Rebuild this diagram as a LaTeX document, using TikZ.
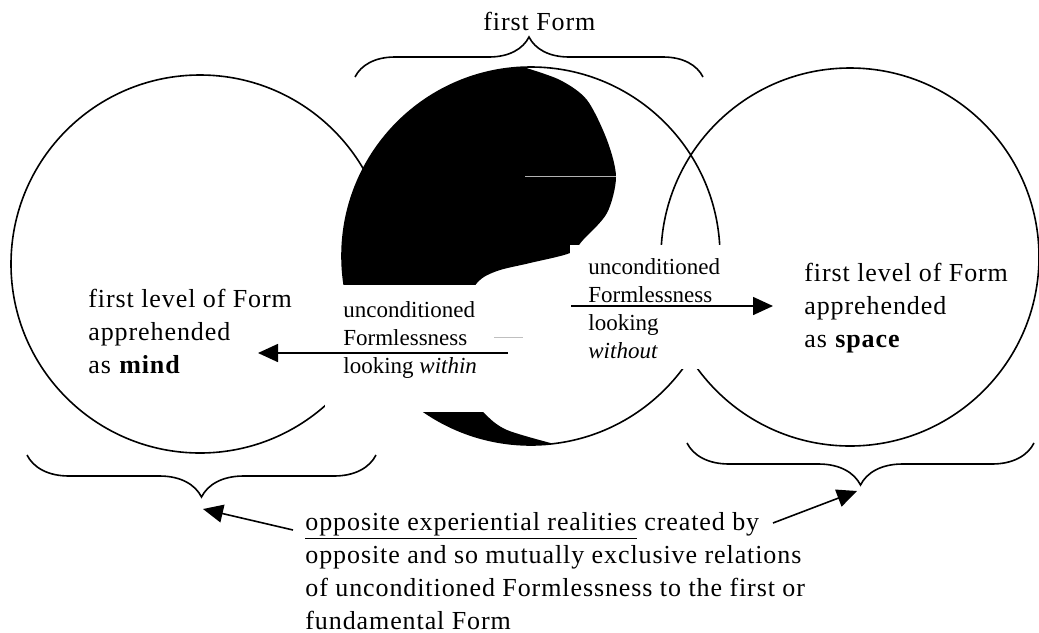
\documentclass[tikz,border=0pt]{standalone}
\usepackage{fontspec}
\setmainfont{Liberation Serif}
\usetikzlibrary{arrows.meta,decorations.pathreplacing}
\begin{document}
\begin{tikzpicture}[
x=0.5pt,y=-0.5pt,
big/.style={font=\fontsize{13}{16.5}\selectfont\addfontfeatures{LetterSpace=3.5},align=left,inner sep=0pt,anchor=base west},
small/.style={font=\fontsize{11.5}{14}\selectfont,align=left,inner sep=0pt,anchor=base west},
ring/.style={line width=0.8pt},
brc/.style={decorate,decoration={brace,amplitude=#1},line width=0.8pt},
arr/.style={-{Triangle[length=10pt,width=9pt]},line width=0.8pt},
mask/.style={fill=white}]
\useasboundingbox (0,0) rectangle (1039,632);
% the three circles
\draw[ring] (200,264) circle[radius=94.5pt];
\begin{scope}
\clip (531,256) circle[radius=94.5pt];
\fill (300,20) -- (523,20) -- plot[smooth] coordinates {(523,67) (560,80) (587,100) (607,140) (616,177) (607,213) (583,240) (570,253) (530,263) (497,271) (477,283) (455,320) (455,380) (483,412) (507,430) (562,446)} -- (562,480) -- (300,480) -- cycle;
\end{scope}
\draw[gray!60,line width=0.5pt] (525,176) -- (616,176);
\draw[ring] (531,256) circle[radius=94.5pt];
\draw[ring] (850,257) circle[radius=94.5pt];
% white boxes under the middle labels
\fill[mask] (325,285) rectangle (510,412);
\fill[mask] (570,245) rectangle (730,369);
\draw[gray!50,line width=0.5pt] (494,337) -- (523,337);
% braces
\draw[brc=20pt] (355,77) -- (703,77);
\draw[brc=21pt] (376,455) -- (27,455);
\draw[brc=21pt] (1034,443) -- (687,443);
\coordinate (mindTip) at (203,509);
\coordinate (spaceTip) at (857,491);
% labels (base = last line)
\node[big] (firstForm) at (483,30) {first Form};
\node[big] (mind) at (88,373) {first level of Form\\apprehended\\as \textbf{mind}};
\node[big] (space) at (804,347) {first level of Form\\apprehended\\as \textbf{space}};
\node[small] (within) at (343,373) {unconditioned\\Formlessness\\looking \textit{within}};
\node[small] (without) at (588,358) {unconditioned\\Formlessness\\looking\\\textit{without}};
\node[big] (realities) at (305,629) {\underline{opposite experiential realities} created by\\opposite and so mutually exclusive relations\\of unconditioned Formlessness to the first or\\fundamental Form};
% arrows
\coordinate (inStart) at (508,353);
\coordinate (inEnd) at (258,353);
\coordinate (outStart) at (571,306);
\coordinate (outEnd) at (773,306);
\coordinate (relLeft) at (293,530);
\coordinate (relRight) at (773,523);
\draw[arr] (inStart) -- (inEnd);
\draw[arr] (outStart) -- (outEnd);
\draw[arr] (relLeft) -- (mindTip);
\draw[arr] (relRight) -- (spaceTip);
\end{tikzpicture}
\end{document}
